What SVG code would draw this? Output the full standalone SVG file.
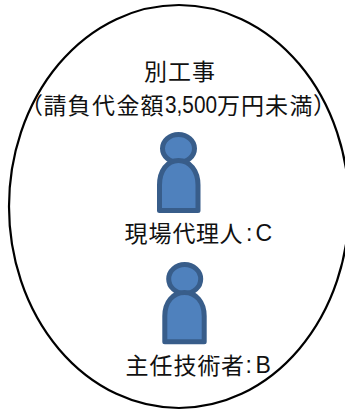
<svg xmlns="http://www.w3.org/2000/svg" width="345" height="411" viewBox="0 0 345 411">
<style>
.t{font-family:"Noto Sans CJK JP",sans-serif;font-size:23px;fill:#111}
.l{font-family:"Liberation Sans",sans-serif;font-size:23px;fill:#111}
.c{font-family:"Liberation Sans",sans-serif;font-size:23px;fill:#111}
.p{fill:#4f81bd;stroke:#385d8a;stroke-width:5;stroke-linejoin:round}
</style>
<rect width="345" height="411" fill="#fff"/>
<g id="boundary"><ellipse cx="179" cy="206.500" rx="170" ry="201.500" fill="none" stroke="#000" stroke-width="2.200"/></g>
<g id="title"><text class="t" x="144 168 192" y="79.500">別工事</text>
<text class="t" x="20 43.500 67.500 92 116.500 140.500" y="113.500">（請負代金額</text>
<text class="l" x="165" y="113" textLength="52" lengthAdjust="spacingAndGlyphs">3,500</text>
<text class="t" x="217 241 265 289.500 313" y="113.500">万円未満）</text></g>
<g id="person-c">
<ellipse class="p" cx="178.500" cy="148.500" rx="16" ry="14"/>
<path class="p" d="M159.500 210.500V185C159.500 171 167 160.500 178.500 160.500C190 160.500 198 171 198 185V210.500Z"/>
<text class="t" x="124.500 148.500 172.500 196 219.500" y="241.500">現場代理人</text>
<text class="c" x="246" y="241">:</text>
<text class="c" x="255.500" y="241">C</text>
</g>
<g id="person-b">
<ellipse class="p" cx="184.700" cy="279" rx="16" ry="14.500"/>
<path class="p" d="M164.800 341.800V316C164.800 302 173 292.500 184.500 292.500C196 292.500 204.200 302 204.200 316V341.800Z"/>
<text class="t" x="125.500 149.500 173.500 197.500 221" y="373.500">主任技術者</text>
<text class="c" x="245.500" y="373">:</text>
<text class="c" x="255.500" y="373">B</text>
</g>
</svg>
